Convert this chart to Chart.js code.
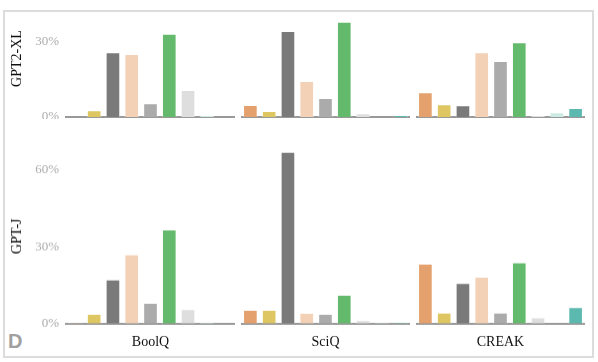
<!DOCTYPE html>
<html>
<head>
<meta charset="utf-8">
<script src="https://cdn.jsdelivr.net/npm/chart.js@4.4.1/dist/chart.umd.min.js"></script>
<style>
  html, body { margin: 0; padding: 0; background: #fff; }
  body { width: 598px; height: 362px; position: relative; overflow: hidden; }
  .frame { position: absolute; left: 3px; top: 10px; width: 591px; height: 348px; box-sizing: border-box; border: 2px solid #dcdcdc; }
  .panel { position: absolute; }
  .panel canvas { display: block; }
  .tag { position: absolute; left: 8px; top: 330px; font: bold 20px "Liberation Sans", Arial, sans-serif; color: #a0a0a0; }
</style>
</head>
<body>
<div class="frame"></div>
<div class="tag">D</div>
<script>
// ---- data ----
const methods = ['M1', 'M2', 'M3', 'M4', 'M5', 'M6', 'M7', 'M8', 'M9'];
const models = ['GPT2-XL', 'GPT-J'];
const datasets = ['BoolQ', 'SciQ', 'CREAK'];
const gpt2xlBoolQ = [0, 2.7, 25.9, 25.2, 5.5, 33.3, 10.8, 0.8, 0];
const gpt2xlSciQ  = [4.8, 2.4, 34.4, 14.4, 7.6, 38.1, 1.5, 0, 0.8];
const gpt2xlCREAK = [9.9, 5.1, 4.7, 25.9, 22.4, 29.9, 0.8, 1.9, 3.6];
const gptjBoolQ   = [0.3, 3.8, 17.2, 27.0, 8.1, 36.7, 5.7, 0.7, 0];
const gptjSciQ    = [5.4, 5.4, 66.9, 4.2, 3.8, 11.3, 1.4, 0.5, 0.5];
const gptjCREAK   = [23.4, 4.3, 15.9, 18.3, 4.3, 23.9, 2.5, 0, 6.5];
const yTicksTop = [0, 30];
const yTicksBottom = [0, 30, 60];
const colors = ['#E4A16D', '#DEC663', '#7A7A7A', '#F2D1B6', '#ABABAB', '#64BA6C', '#DEDEDE', '#CDEBE4', '#5CB9AF'];

const rows = [
  { model: models[0], values: [gpt2xlBoolQ, gpt2xlSciQ, gpt2xlCREAK], ticks: yTicksTop, max: 46.8, top: 0, zero: 117 },
  { model: models[1], values: [gptjBoolQ, gptjSciQ, gptjCREAK], ticks: yTicksBottom, max: 68, top: 148.9, zero: 322.7 }
];
const colLeft = [66, 241, 416];
const colWidth = 169;
const yAxisW = 66;

function zeroPad(s) { s.paddingTop = 0; s.paddingBottom = 0; s.paddingLeft = 0; s.paddingRight = 0; }

rows.forEach((row, ri) => {
  const isBottom = ri === rows.length - 1;
  const areaH = row.zero - row.top;
  const xAxisH = isBottom ? 30 : 2;
  row.values.forEach((vals, ci) => {
    const isLeft = ci === 0;
    const left = isLeft ? colLeft[ci] - yAxisW : colLeft[ci];
    const width = isLeft ? colWidth + yAxisW : colWidth;
    const height = areaH + xAxisH;
    const div = document.createElement('div');
    div.className = 'panel';
    div.style.left = left + 'px';
    div.style.top = row.top + 'px';
    div.style.width = width + 'px';
    div.style.height = height + 'px';
    const cv = document.createElement('canvas');
    div.appendChild(cv);
    document.body.appendChild(div);
    new Chart(cv, {
      type: 'bar',
      data: {
        labels: methods,
        datasets: [{
          data: vals,
          backgroundColor: colors,
          borderColor: 'rgba(255,255,255,0.45)',
          borderWidth: 1,
          borderSkipped: 'bottom',
          barPercentage: 0.78,
          categoryPercentage: 1.0
        }]
      },
      options: {
        responsive: true,
        maintainAspectRatio: false,
        animation: false,
        devicePixelRatio: 1,
        layout: { padding: 0 },
        plugins: { legend: { display: false }, tooltip: { enabled: false } },
        scales: {
          x: {
            display: true,
            grid: { display: false, drawTicks: false },
            border: { display: true, color: '#999999', width: 2 },
            ticks: { display: false },
            title: {
              display: isBottom,
              text: datasets[ci],
              color: '#111',
              font: { family: '"Liberation Serif", "Times New Roman", serif', size: 14 },
              padding: { top: 0, bottom: 3 }
            },
            afterFit: s => { s.height = xAxisH; zeroPad(s); }
          },
          y: {
            display: isLeft,
            min: 0,
            max: row.max,
            grid: { display: false, drawTicks: false },
            border: { display: false },
            afterBuildTicks: s => { s.ticks = row.ticks.map(v => ({ value: v })); },
            ticks: {
              padding: 7,
              color: '#ababab',
              font: { family: '"Liberation Serif", "Times New Roman", serif', size: 13 },
              callback: v => v + '%'
            },
            title: {
              display: isLeft,
              text: row.model,
              color: '#111',
              font: { family: '"Liberation Serif", "Times New Roman", serif', size: 14 },
              padding: { top: 9, bottom: 0 }
            },
            afterFit: s => { if (isLeft) { s.width = yAxisW; } else { s.width = 0; } zeroPad(s); }
          }
        }
      }
    });
  });
});
</script>
</body>
</html>
